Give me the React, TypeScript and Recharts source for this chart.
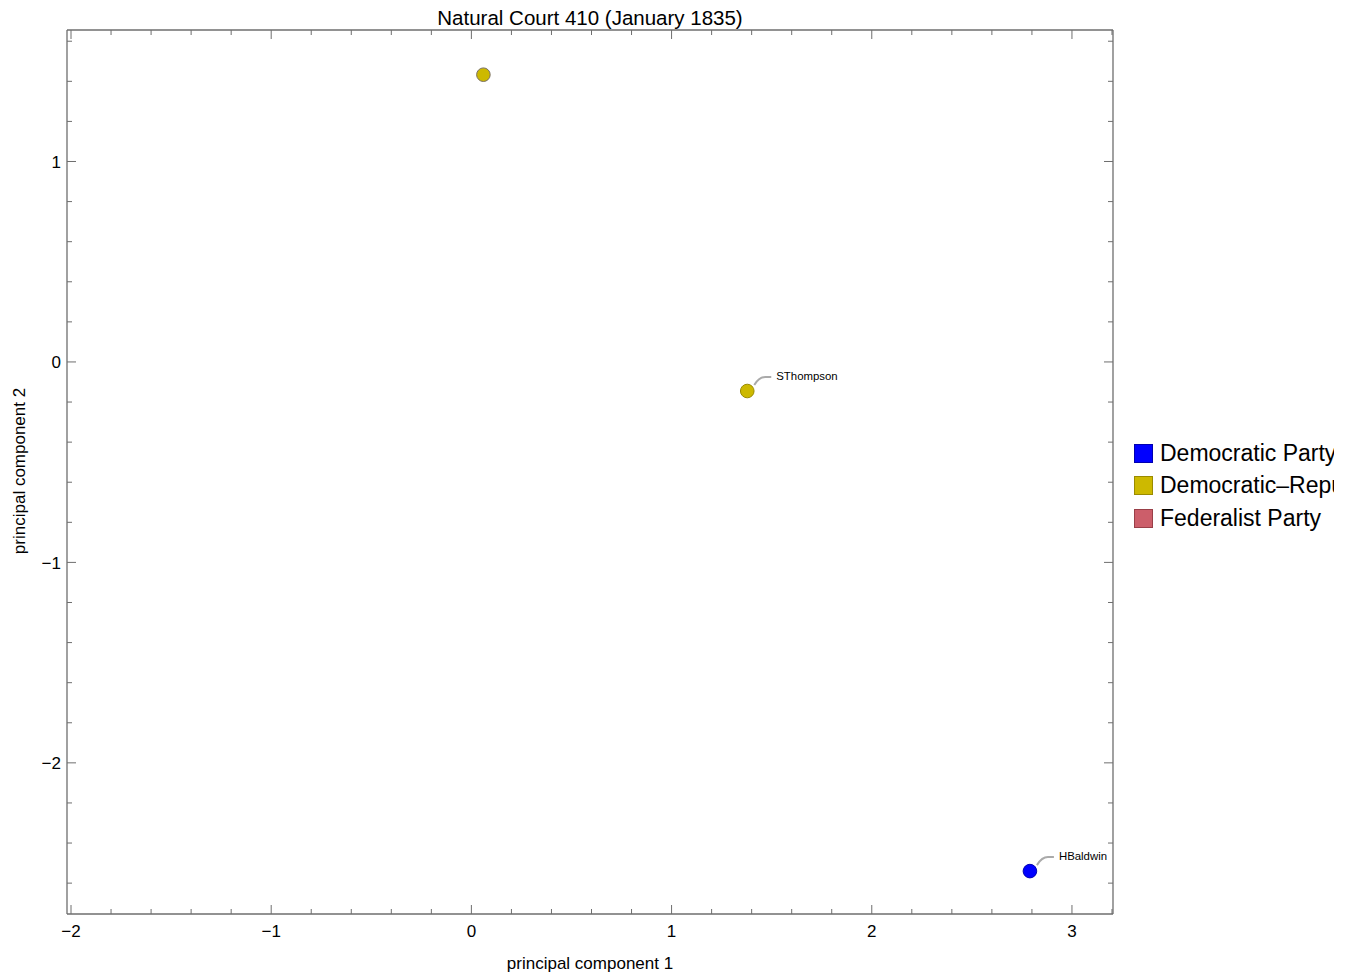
import React from 'react';
import { ScatterChart, Scatter, XAxis, YAxis } from 'recharts';

// parties shown in the legend, in order
const parties = ['Democratic Party', 'Democratic\u2013Republican Party', 'Federalist Party'];
const partyColors = ['#0000ff', '#cdb900', '#cc5e6a'];
const partyEdges = ['#0000b0', '#9a8b00', '#993f48'];

// justices, by party (principal components)
const democratic = [{ name: 'HBaldwin', pc1: 2.79, pc2: -2.54 }];
const democraticRepublican = [
  { name: '', pc1: 0.06, pc2: 1.433 },
  { name: 'SThompson', pc1: 1.378, pc2: -0.145 },
];
const federalist: { name: string; pc1: number; pc2: number }[] = [];

const xTicks = [
  -2, -1.8, -1.6, -1.4, -1.2, -1, -0.8, -0.6, -0.4, -0.2, 0, 0.2, 0.4, 0.6, 0.8,
  1, 1.2, 1.4, 1.6, 1.8, 2, 2.2, 2.4, 2.6, 2.8, 3, 3.2,
];
const yTicks = [
  -2.6, -2.4, -2.2, -2, -1.8, -1.6, -1.4, -1.2, -1, -0.8, -0.6, -0.4, -0.2, 0,
  0.2, 0.4, 0.6, 0.8, 1, 1.2, 1.4, 1.6,
];

const FONT = '"Liberation Sans", Arial, sans-serif';
const FRAME = '#6e6e6e';

const isMajor = (v: number) => Math.abs(v - Math.round(v)) < 1e-6;
const fmt = (v: number) => (v < 0 ? '\u2212' + Math.abs(v) : String(v));

const XTick = ({ x, y, payload, side }: any) => {
  const v = payload.value;
  const len = isMajor(v) ? 9 : 5;
  const dir = side === 'bottom' ? -1 : 1;
  return (
    <g>
      <line x1={x} x2={x} y1={y} y2={y + dir * len} stroke={FRAME} strokeWidth={1} />
      {side === 'bottom' && isMajor(v) && (
        <text x={x} y={y + 23} textAnchor="middle" fontSize={17} fontFamily={FONT} fill="#000">
          {fmt(Math.round(v))}
        </text>
      )}
    </g>
  );
};

const YTick = ({ x, y, payload, side }: any) => {
  const v = payload.value;
  const len = isMajor(v) ? 9 : 5;
  const dir = side === 'left' ? 1 : -1;
  return (
    <g>
      <line x1={x} x2={x + dir * len} y1={y} y2={y} stroke={FRAME} strokeWidth={1} />
      {side === 'left' && isMajor(v) && (
        <text x={x - 6} y={y} dy="0.36em" textAnchor="end" fontSize={17} fontFamily={FONT} fill="#000">
          {fmt(Math.round(v))}
        </text>
      )}
    </g>
  );
};

const makeDot = (fill: string, edge: string) => (props: any) => {
  const { cx, cy, payload } = props;
  const named = !!payload.name;
  return (
    <g>
      <circle cx={cx} cy={cy} r={6.8} fill={fill} stroke={named ? edge : '#7a7060'} strokeWidth={1} />
      {named && (
        <>
          <path
            d={`M ${cx + 7} ${cy - 6} Q ${cx + 12} ${cy - 14} ${cx + 18} ${cy - 14} L ${cx + 24} ${cy - 14}`}
            fill="none"
            stroke="#aaaaaa"
            strokeWidth={2}
          />
          <text x={cx + 29} y={cy - 15} dy="0.35em" fontSize={11.4} fontFamily={FONT} fill="#000">
            {payload.name}
          </text>
        </>
      )}
    </g>
  );
};

const series = [democratic, democraticRepublican, federalist];

export default function App() {
  return (
    <div style={{ position: 'absolute', left: 0, top: 0, width: 1356, height: 980, background: '#fff', overflow: 'hidden' }}>
      <ScatterChart width={1356} height={980} margin={{ top: 29, right: 242, bottom: 65, left: 66 }}>
        <XAxis
          xAxisId="b"
          type="number"
          dataKey="pc1"
          domain={[-2.02, 3.205]}
          ticks={xTicks}
          interval={0}
          allowDataOverflow
          orientation="bottom"
          height={1}
          tickSize={0}
          tickMargin={0}
          axisLine={{ stroke: FRAME, strokeWidth: 1.3 }}
          tick={<XTick side="bottom" />}
        />
        <XAxis
          xAxisId="t"
          type="number"
          dataKey="pc1"
          domain={[-2.02, 3.205]}
          ticks={xTicks}
          interval={0}
          allowDataOverflow
          orientation="top"
          height={1}
          tickSize={0}
          tickMargin={0}
          axisLine={{ stroke: FRAME, strokeWidth: 1.3 }}
          tick={<XTick side="top" />}
        />
        <YAxis
          yAxisId="l"
          type="number"
          dataKey="pc2"
          domain={[-2.754, 1.656]}
          ticks={yTicks}
          interval={0}
          allowDataOverflow
          orientation="left"
          width={1}
          tickSize={0}
          tickMargin={0}
          axisLine={{ stroke: FRAME, strokeWidth: 1.3 }}
          tick={<YTick side="left" />}
        />
        <YAxis
          yAxisId="r"
          type="number"
          dataKey="pc2"
          domain={[-2.754, 1.656]}
          ticks={yTicks}
          interval={0}
          allowDataOverflow
          orientation="right"
          width={1}
          tickSize={0}
          tickMargin={0}
          axisLine={{ stroke: FRAME, strokeWidth: 1.3 }}
          tick={<YTick side="right" />}
        />
        {series.map((data, i) => (
          <Scatter
            key={parties[i]}
            name={parties[i]}
            data={data}
            xAxisId="b"
            yAxisId="l"
            fill={partyColors[i]}
            isAnimationActive={false}
            shape={makeDot(partyColors[i], partyEdges[i])}
          />
        ))}
        <text x={590} y={18} dy="0.35em" textAnchor="middle" fontSize={20.5} fontFamily={FONT} fill="#000">
          Natural Court 410 (January 1835)
        </text>
        <text x={590} y={963} dy="0.35em" textAnchor="middle" fontSize={17} fontFamily={FONT} fill="#000">
          principal component 1
        </text>
        <text
          x={19}
          y={471}
          dy="0.35em"
          textAnchor="middle"
          fontSize={17}
          fontFamily={FONT}
          fill="#000"
          transform="rotate(-90 19 471)"
        >
          principal component 2
        </text>
      </ScatterChart>
      <div
        style={{
          position: 'absolute',
          left: 1134,
          top: 437,
          width: 200,
          overflow: 'hidden',
          fontFamily: FONT,
          fontSize: 23,
          whiteSpace: 'nowrap',
        }}
      >
        {parties.map((p, i) => (
          <div key={p} style={{ display: 'flex', alignItems: 'center', height: 32.5 }}>
            <span
              style={{
                display: 'inline-block',
                width: 17,
                height: 17,
                background: partyColors[i],
                border: `1px solid ${partyEdges[i]}`,
                marginRight: 7,
                flex: 'none',
              }}
            />
            <span>{p}</span>
          </div>
        ))}
      </div>
    </div>
  );
}
